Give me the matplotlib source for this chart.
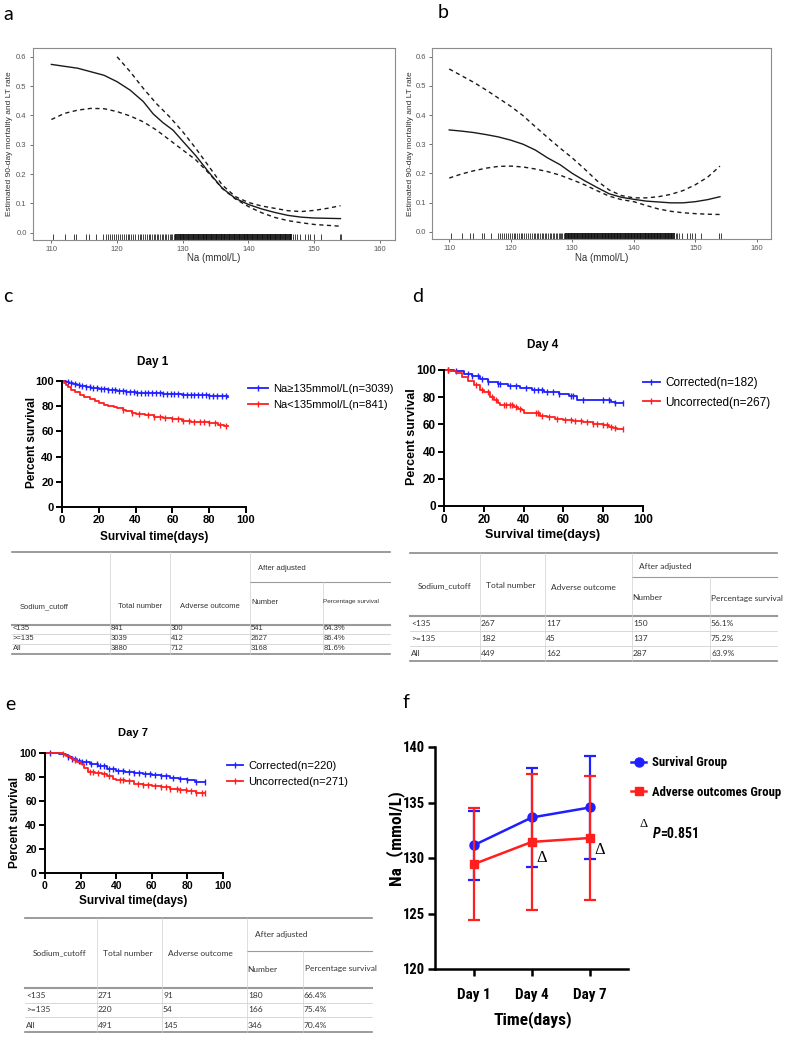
import numpy as np
import matplotlib
matplotlib.use('Agg')
import matplotlib.pyplot as plt
import matplotlib.transforms as mtransforms
from matplotlib.lines import Line2D
from matplotlib import font_manager as fm

plt.rcParams['font.family'] = ['Liberation Sans', 'DejaVu Sans']
plt.rcParams['mathtext.fontset'] = 'custom'
plt.rcParams['mathtext.rm'] = 'Liberation Sans'
plt.rcParams['mathtext.it'] = 'Liberation Sans:italic'
plt.rcParams['mathtext.bf'] = 'Liberation Sans:bold'

W, H = 786, 1039

# ---------------- panels a / b : restricted cubic spline ----------------
a_fit_x = [110, 114, 118, 120, 122, 124, 125.5, 127, 128.5, 130, 132, 134, 136, 138, 140, 142, 144, 146, 148, 150, 152, 154]
a_fit_y = [0.574, 0.561, 0.537, 0.515, 0.486, 0.447, 0.405, 0.375, 0.350, 0.312, 0.262, 0.205, 0.152, 0.117, 0.096, 0.081, 0.069, 0.059, 0.053, 0.050, 0.049, 0.048]
a_up_x = [120, 122, 124, 126, 128, 130, 132, 134, 136, 138, 140, 142, 144, 146, 148, 150, 152, 154]
a_up_y = [0.600, 0.549, 0.492, 0.440, 0.395, 0.344, 0.287, 0.225, 0.163, 0.123, 0.103, 0.091, 0.083, 0.075, 0.072, 0.076, 0.083, 0.092]
a_lo_x = [110, 112, 114, 116, 118, 120, 122, 124, 126, 128, 130, 132, 134, 136, 138, 140, 142, 144, 146, 148, 150, 152, 154]
a_lo_y = [0.386, 0.407, 0.418, 0.424, 0.423, 0.413, 0.398, 0.378, 0.350, 0.316, 0.282, 0.248, 0.202, 0.151, 0.115, 0.089, 0.068, 0.052, 0.041, 0.034, 0.028, 0.025, 0.022]

b_x = [110, 112, 114, 116, 118, 120, 122, 124, 126, 128, 130, 132, 134, 136, 138, 140, 142, 144, 146, 148, 150, 152, 154]
b_fit_y = [0.349, 0.345, 0.340, 0.333, 0.325, 0.314, 0.300, 0.280, 0.253, 0.230, 0.200, 0.175, 0.152, 0.130, 0.118, 0.111, 0.105, 0.102, 0.099, 0.099, 0.103, 0.110, 0.120]
b_up_y = [0.558, 0.535, 0.512, 0.486, 0.458, 0.430, 0.398, 0.360, 0.323, 0.287, 0.253, 0.215, 0.175, 0.143, 0.124, 0.116, 0.116, 0.120, 0.128, 0.141, 0.161, 0.187, 0.225]
b_lo_y = [0.184, 0.198, 0.209, 0.218, 0.224, 0.225, 0.222, 0.215, 0.206, 0.194, 0.178, 0.161, 0.141, 0.122, 0.110, 0.103, 0.090, 0.078, 0.070, 0.065, 0.062, 0.060, 0.059]

# observed sodium values (rug): scattered values and the dense central band
rug_sparse = [110.3, 112.0, 113.4, 113.8, 115.3, 115.7, 116.8, 117.9, 118.3, 118.6, 118.9, 119.3, 119.6, 119.9,
              120.2, 120.5, 120.7, 121.0, 121.3, 121.6, 121.8, 122.1, 122.4, 122.8, 123.2, 123.5, 123.7,
              124.0, 124.3, 124.5, 124.8, 125.0, 125.3, 125.6, 125.8, 126.1, 126.3, 126.6, 126.8, 127.0,
              127.3, 127.5, 127.8, 128.0, 128.2, 128.4, 128.6, 128.8,
              146.8, 147.1, 147.4, 147.8, 148.6, 149.1, 149.4, 150.0, 151.0, 153.9, 154.1]
rug_dense = [129.0, 129.25, 129.5, 129.75, 130.0, 130.25, 130.5, 130.75, 131.0, 131.25, 131.5, 131.75,
             132.0, 132.25, 132.5, 132.75, 133.0, 133.25, 133.5, 133.75, 134.0, 134.25, 134.5, 134.75,
             135.0, 135.25, 135.5, 135.75, 136.0, 136.25, 136.5, 136.75, 137.0, 137.25, 137.5, 137.75,
             138.0, 138.25, 138.5, 138.75, 139.0, 139.25, 139.5, 139.75, 140.0, 140.25, 140.5, 140.75,
             141.0, 141.25, 141.5, 141.75, 142.0, 142.25, 142.5, 142.75, 143.0, 143.25, 143.5, 143.75,
             144.0, 144.25, 144.5, 144.75, 145.0, 145.25, 145.5, 145.75, 146.0, 146.25, 146.5]

# ---------------- panels c / d / e : Kaplan-Meier ----------------
d1_hi_t = [0, 2, 4, 6, 8, 10, 13, 16, 20, 25, 30, 35, 40, 50, 55, 60, 65, 70, 75, 80, 85, 90]
d1_hi_s = [100, 99.2, 98.5, 97.6, 96.9, 96.3, 95.3, 94.5, 93.4, 92.6, 91.8, 91.2, 90.7, 90.2, 89.8, 89.4, 89.0, 88.9, 88.5, 88.1, 87.8, 87.6]
d1_hi_c = [3, 5, 7, 9, 11, 13, 15, 17, 19, 21, 23, 25, 27, 29, 31, 33, 35, 37, 39, 41, 43, 45, 47, 49, 51, 53,
           55, 57, 59, 61, 63, 66, 68, 70, 72, 74, 76, 78, 80, 82, 84, 87, 89]
d1_lo_t = [0, 1, 2, 3, 5, 7, 10, 12, 15, 18, 20, 23, 25, 28, 30, 33, 35, 38, 40, 45, 50, 55, 60, 65, 70, 75, 80, 85, 88, 90]
d1_lo_s = [100, 98.5, 96.8, 95.5, 92.9, 91.0, 88.9, 87.5, 85.4, 83.8, 82.8, 81.2, 80.2, 79.0, 78.3, 77.3, 76.4, 75.0, 73.8,
           73.0, 71.7, 70.9, 69.6, 68.5, 67.7, 67.2, 66.4, 65.3, 64.6, 64.6]
d1_lo_c = [33, 38, 42, 47, 50, 53, 56, 60, 63, 66, 69, 72, 75, 77, 80, 83, 86, 89]

d4_co_t = [0, 5, 10, 14, 18, 22, 27, 32, 38, 44, 50, 58, 63, 67, 84, 86, 90]
d4_co_s = [100, 99.0, 97.0, 95.5, 93.5, 91.5, 89.8, 88.2, 86.5, 85.0, 83.7, 82.0, 80.8, 78.0, 76.5, 75.7, 75.7]
d4_co_c = [2, 6, 12, 14, 17, 19, 22, 27, 28, 33, 36, 41, 45, 47, 49, 52, 55, 58, 64, 65, 70, 80, 83, 86, 90]
d4_un_t = [0, 3, 6, 9, 12, 15, 18, 20, 23, 25, 27, 28, 35, 37, 39, 40, 46, 48, 52, 56, 60, 65, 70, 75, 80, 83, 85, 87, 90]
d4_un_s = [100, 99.0, 97.5, 95.0, 92.0, 88.7, 85.5, 83.5, 80.5, 78.0, 76.0, 74.0, 73.0, 71.5, 70.5, 68.3, 68.3, 66.5,
           65.3, 64.3, 63.4, 62.5, 61.4, 60.4, 59.2, 58.0, 57.2, 56.3, 56.3]
d4_un_c = [2, 16, 19, 22, 24, 26, 30, 31, 33, 34, 36, 38, 46, 47, 49, 53, 57, 61, 64, 66, 69, 72, 75, 77, 80, 82, 84, 86, 90]

d7_co_t = [0, 8, 11, 13, 15, 18, 20, 25, 30, 35, 40, 45, 50, 55, 60, 65, 70, 75, 80, 84, 90]
d7_co_s = [100, 99.0, 98.3, 96.5, 94.7, 93.3, 92.5, 90.6, 88.9, 86.9, 85.0, 83.9, 83.3, 82.5, 81.4, 80.6, 79.4, 78.3, 77.2, 75.8, 75.8]
d7_co_c = [3, 13, 15, 17, 19, 21, 23, 26, 29, 31, 33, 36, 38, 41, 44, 47, 50, 53, 56, 59, 62, 65, 68, 72, 76, 80, 85, 90]
d7_un_t = [0, 10, 12, 14, 16, 18, 20, 22, 24, 28, 32, 35, 38, 40, 45, 50, 55, 60, 65, 70, 75, 80, 85, 90]
d7_un_s = [100, 99.4, 97.8, 95.5, 94.0, 92.5, 91.1, 87.8, 84.2, 83.3, 82.2, 80.6, 78.6, 77.2, 76.4, 73.9, 73.1, 72.5,
           71.7, 70.3, 69.4, 68.1, 66.7, 66.7]
d7_un_c = [10, 17, 25, 27, 30, 33, 36, 42, 44, 47, 52, 55, 58, 62, 65, 68, 70, 74, 76, 79, 82, 85, 88, 90]

# ---------------- tables ----------------
cutoff_rows = ['<135', '>=135', 'All']
tab_c_total = [841, 3039, 3880]
tab_c_adverse = [300, 412, 712]
tab_c_number = [541, 2627, 3168]
tab_c_pct = ['64.3%', '86.4%', '81.6%']
tab_d_total = [267, 182, 449]
tab_d_adverse = [117, 45, 162]
tab_d_number = [150, 137, 287]
tab_d_pct = ['56.1%', '75.2%', '63.9%']
tab_e_total = [271, 220, 491]
tab_e_adverse = [91, 54, 145]
tab_e_number = [180, 166, 346]
tab_e_pct = ['66.4%', '75.4%', '70.4%']

# ---------------- panel f ----------------
days = ['Day 1', 'Day 4', 'Day 7']
surv_mean = [131.15, 133.65, 134.55]
surv_sd = [3.1, 4.45, 4.65]
adv_mean = [129.45, 131.45, 131.8]
adv_sd = [5.05, 6.15, 5.6]

BLUE = '#1f1fff'
RED = '#ff1f1f'

# condensed face for panel f if one is installed, else plain bold at smaller sizes
installed = {f.name for f in fm.fontManager.ttflist}
narrow = [n for n in ['Liberation Sans Narrow', 'Roboto Condensed', 'Open Sans Condensed'] if n in installed]
if narrow:
    NARROW = [narrow[0], 'Liberation Sans', 'DejaVu Sans']
    FS_F = dict(ytick=10.5, xtick=11, leg=9.2, lab=12.5, ylab=12.5, p=10)
else:
    NARROW = ['Liberation Sans', 'DejaVu Sans']
    FS_F = dict(ytick=8.8, xtick=8.8, leg=7.6, lab=10, ylab=11, p=8.5)


def rect(l, t, r, b):
    return [l / W, 1 - b / H, (r - l) / W, (b - t) / H]


fig = plt.figure(figsize=(W / 100, H / 100), dpi=100)
ov = fig.add_axes([0, 0, 1, 1])
ov.set_xlim(0, W)
ov.set_ylim(H, 0)
ov.axis('off')

# panel letters
for lab, x, y in [('a', 8, 14), ('b', 443, 13), ('c', 8, 297), ('d', 418, 297), ('e', 10, 705), ('f', 406, 703)]:
    ov.text(x, y, lab, fontsize=14, family=['Lato', 'DejaVu Sans'], ha='center', va='center')


def spline_panel(box, curves, ylab_x, xlab_y):
    ax = fig.add_axes(rect(*box))
    for x, y, ls in curves:
        if ls == 'solid':
            ax.plot(x, y, color='#1a1a1a', lw=1.0)
        else:
            ax.plot(x, y, color='#1a1a1a', lw=1.0, dashes=(3, 2.5))
    trans = mtransforms.blended_transform_factory(ax.transData, ax.transAxes)
    ax.vlines(rug_sparse, 0, 0.03, transform=trans, color='#222222', lw=0.6)
    ax.vlines(rug_dense, 0, 0.03, transform=trans, color='#111111', lw=1.3)
    ax.set_xlim(107.2, 162.3)
    ax.set_ylim(-0.025, 0.63)
    ax.set_xticks([110, 120, 130, 140, 150, 160])
    ax.set_yticks([0.0, 0.1, 0.2, 0.3, 0.4, 0.5, 0.6])
    ax.set_yticklabels(['0.0', '0.1', '0.2', '0.3', '0.4', '0.5', '0.6'])
    for s in ax.spines.values():
        s.set_color('#8c8c8c')
        s.set_linewidth(0.8)
    ax.tick_params(labelsize=5.5, colors='#555555', length=2.5, width=0.6, pad=2)
    l, t, r, b = box
    ov.text(ylab_x, (t + b) / 2, 'Estimated 90-day mortality and LT rate', rotation=90,
            ha='center', va='center', fontsize=6, color='#333333')
    ov.text((l + r) / 2, xlab_y, 'Na (mmol/L)', ha='center', va='center', fontsize=7, color='#333333')


spline_panel((33, 48, 395, 240), [(a_fit_x, a_fit_y, 'solid'), (a_up_x, a_up_y, 'dash'), (a_lo_x, a_lo_y, 'dash')], 10, 258)
spline_panel((432, 48, 771, 239), [(b_x, b_fit_y, 'solid'), (b_x, b_up_y, 'dash'), (b_x, b_lo_y, 'dash')], 410, 258)


def step_at(t, s, c):
    idx = np.searchsorted(t, c, side='right') - 1
    return np.array(s)[idx]


def km_panel(box, title, title_xy, curves, labels, leg, notes, fs):
    ax = fig.add_axes(rect(*box))
    for (t, s, c), col in zip(curves, [BLUE, RED]):
        ax.plot(t, s, drawstyle='steps-post', color=col, lw=1.3, clip_on=False)
        ax.plot(c, step_at(t, s, c), ls='none', marker='|', ms=4, mew=1.0, color=col, clip_on=False)
    ax.set_xlim(0, 100)
    ax.set_ylim(0, 100)
    ax.set_xticks([0, 20, 40, 60, 80, 100])
    ax.set_yticks([0, 20, 40, 60, 80, 100])
    for side in ['top', 'right']:
        ax.spines[side].set_visible(False)
    for side in ['left', 'bottom']:
        ax.spines[side].set_linewidth(1.4)
    ax.tick_params(length=4, width=1.4, labelsize=fs['tick'], pad=2)
    for lb in ax.get_xticklabels() + ax.get_yticklabels():
        lb.set_fontweight('bold')
    ov.text(title_xy[0], title_xy[1], title, ha='center', va='center', fontsize=fs['title'], fontweight='bold')
    handles = [Line2D([0], [0], color=c, lw=1.3, marker='|', ms=4, mew=1.0) for c in [BLUE, RED]]
    lx, ly, hl = leg
    ax.legend(handles, labels, loc='center left', bbox_to_anchor=(lx / W, 1 - ly / H),
              bbox_transform=fig.transFigure, frameon=False, fontsize=fs['leg'], handlelength=hl,
              handletextpad=0.5, labelspacing=0.6, borderpad=0, borderaxespad=0, numpoints=1)
    (nx, ny1, ny2), (t1, t2) = notes
    ov.text(nx, ny1, t1, ha='left', va='center', fontsize=fs['note'])
    ov.text(nx, ny2, t2, ha='left', va='center', fontsize=fs['note'])
    ov.text(fs['ylab'][0], fs['ylab'][1], 'Percent survival', rotation=90, ha='center', va='center',
            fontsize=fs['lab'], fontweight='bold')
    ov.text(fs['xlab'][0], fs['xlab'][1], 'Survival time(days)', ha='center', va='center',
            fontsize=fs['lab'], fontweight='bold')


km_panel((62, 381, 246, 507), 'Day 1', (153, 362),
         [(d1_hi_t, d1_hi_s, d1_hi_c), (d1_lo_t, d1_lo_s, d1_lo_c)],
         ['Na≥135mmol/L(n=3039)', 'Na<135mmol/L(n=841)'], (248, 397, 1.8),
         ((82, 466, 492), ('Log-rank test $\\mathit{p}$<0.0001', 'HR(95%CI)=3.01(2.50-3.62)')),
         dict(tick=8, title=8.5, leg=8, note=7, lab=8.5, ylab=(32, 443), xlab=(154, 537)))
km_panel((444, 370, 643, 506), 'Day 4', (543, 345),
         [(d4_co_t, d4_co_s, d4_co_c), (d4_un_t, d4_un_s, d4_un_c)],
         ['Corrected(n=182)', 'Uncorrected(n=267)'], (643, 393, 1.4),
         ((466, 462, 488), ('Log-rank test $\\mathit{p}$<0.0001', 'HR(95%CI)=2.05(1.50-2.79)')),
         dict(tick=8.5, title=8.5, leg=8.5, note=7.5, lab=9, ylab=(412, 437), xlab=(543, 535)))
km_panel((45, 753, 223, 873), 'Day 7', (133, 733),
         [(d7_co_t, d7_co_s, d7_co_c), (d7_un_t, d7_un_s, d7_un_c)],
         ['Corrected(n=220)', 'Uncorrected(n=271)'], (227, 774, 1.4),
         ((64, 827, 852), ('Log-rank test $\\mathit{p}$=0.028', 'HR(95%CI)=1.46(1.05-2.02)')),
         dict(tick=7.5, title=8, leg=8, note=7, lab=8.5, ylab=(15, 823), xlab=(133, 901)))


def draw_table(cols, top, sub, hdr, row_lines, bottom, row_y, hdr_text, cols_data, font, fs, fs_pct):
    l, r = cols[0], cols[-1]
    ov.plot([l, r], [top, top], color='#8a8a8a', lw=1.2)
    ov.plot([cols[3], r], [sub, sub], color='#9a9a9a', lw=0.8)
    ov.plot([l, r], [hdr, hdr], color='#9a9a9a', lw=1.5)
    for y in row_lines:
        ov.plot([l, r], [y, y], color='#c8c8c8', lw=0.5)
    ov.plot([l, r], [bottom, bottom], color='#8a8a8a', lw=1.2)
    for x in cols[1:4]:
        ov.plot([x, x], [top, bottom], color='#d0d0d0', lw=0.5)
    ov.plot([cols[4], cols[4]], [sub, bottom], color='#d0d0d0', lw=0.5)
    for (txt, x, y, ha) in hdr_text:
        ov.text(x, y, txt, ha=ha, va='center', fontsize=fs_pct if txt.startswith('Percentage') else fs,
                family=font, color='#333333')
    for ci, col in enumerate(cols_data):
        for ri, v in enumerate(col):
            ov.text(cols[ci] + 1, row_y[ri], str(v), ha='left', va='center', fontsize=fs, family=font, color='#333333')


draw_table([12, 110, 170, 250, 323, 390], 552, 582, 625, [634, 644], 654, [629, 639, 649],
           [('Sodium_cutoff', 20, 607, 'left'), ('Total number', 140, 607, 'center'),
            ('Adverse outcome', 210, 607, 'center'), ('After adjusted', 258, 568, 'left'),
            ('Number', 251, 602, 'left'), ('Percentage survival', 323, 602, 'left')],
           [cutoff_rows, tab_c_total, tab_c_adverse, tab_c_number, tab_c_pct],
           ['Liberation Sans', 'DejaVu Sans'], 5.5, 4.6)
draw_table([410, 480, 545, 632, 710, 777], 553, 577, 616, [631, 646], 661, [623.5, 638.5, 653.5],
           [('Sodium_cutoff', 418, 586, 'left'), ('Total number', 511, 586, 'center'),
            ('Adverse outcome', 583, 588, 'center'), ('After adjusted', 639, 566, 'left'),
            ('Number', 632, 598, 'left'), ('Percentage survival', 711, 598, 'left')],
           [cutoff_rows, tab_d_total, tab_d_adverse, tab_d_number, tab_d_pct],
           ['Lato', 'DejaVu Sans'], 6, 6)
draw_table([25, 97, 162, 247, 303, 372], 918, 951, 988, [1003, 1017], 1032, [996, 1010, 1025],
           [('Sodium_cutoff', 33, 953, 'left'), ('Total number', 128, 953, 'center'),
            ('Adverse outcome', 200, 953, 'center'), ('After adjusted', 255, 935, 'left'),
            ('Number', 247, 969, 'left'), ('Percentage survival', 305, 969, 'left')],
           [cutoff_rows, tab_e_total, tab_e_adverse, tab_e_number, tab_e_pct],
           ['Lato', 'DejaVu Sans'], 6, 6)

# ---------------- panel f ----------------
axf = fig.add_axes(rect(435, 747, 628, 969))
xpos = np.arange(len(days))
axf.errorbar(xpos, surv_mean, yerr=surv_sd, color=BLUE, marker='o', ms=6.5, lw=1.8, elinewidth=1.6,
             capsize=4.5, capthick=1.6, clip_on=False, zorder=3)
axf.errorbar(xpos, adv_mean, yerr=adv_sd, color=RED, marker='s', ms=6, lw=1.8, elinewidth=1.6,
             capsize=4.5, capthick=1.6, clip_on=False, zorder=4)
axf.set_xlim(-0.67, 2.66)
axf.set_ylim(120, 140)
axf.set_yticks([120, 125, 130, 135, 140])
axf.set_xticks(xpos)
axf.set_xticklabels(days)
for side in ['top', 'right']:
    axf.spines[side].set_visible(False)
for side in ['left', 'bottom']:
    axf.spines[side].set_linewidth(1.8)
axf.tick_params(axis='y', length=5, width=1.8, pad=2)
axf.tick_params(axis='x', length=5, width=1.8, pad=9)
for lb in axf.get_yticklabels():
    lb.set_fontweight('bold')
    lb.set_fontsize(FS_F['ytick'])
    lb.set_family(NARROW)
for lb in axf.get_xticklabels():
    lb.set_fontweight('bold')
    lb.set_fontsize(FS_F['xtick'])
    lb.set_family(NARROW)
axf.text(1.17, 130.0, 'Δ', fontsize=12, family=['Liberation Serif', 'DejaVu Serif'], ha='center', va='center')
axf.text(2.17, 130.7, 'Δ', fontsize=12, family=['Liberation Serif', 'DejaVu Serif'], ha='center', va='center')
fh = [Line2D([0], [0], color=BLUE, marker='o', ms=6.5, lw=1.8), Line2D([0], [0], color=RED, marker='s', ms=6, lw=1.8)]
axf.legend(fh, ['Survival Group', 'Adverse outcomes Group'], loc='center left',
           bbox_to_anchor=(631 / W, 1 - 777.5 / H), bbox_transform=fig.transFigure, frameon=False,
           prop={'family': NARROW, 'weight': 'bold', 'size': FS_F['leg']}, handlelength=1.2, handletextpad=0.45,
           labelspacing=1.3, borderpad=0, borderaxespad=0)
ov.text(644, 824, 'Δ', fontsize=9, family=['Liberation Serif', 'DejaVu Serif'], ha='center', va='center')
ov.text(653, 834, 'P', fontsize=FS_F['p'], family=NARROW, fontweight='bold', style='italic', ha='left', va='center')
ov.text(660, 834, '=0.851', fontsize=FS_F['p'], family=NARROW, fontweight='bold', ha='left', va='center')
ov.text(396, 838, 'Na（mmol/L)', rotation=90, ha='center', va='center', fontsize=FS_F['ylab'], fontweight='bold',
        family=NARROW[:1] + ['Noto Sans CJK SC', 'DejaVu Sans'])
ov.text(533, 1020, 'Time(days)', ha='center', va='center', fontsize=FS_F['lab'], fontweight='bold', family=NARROW)

fig.savefig('out.png', dpi=100)
